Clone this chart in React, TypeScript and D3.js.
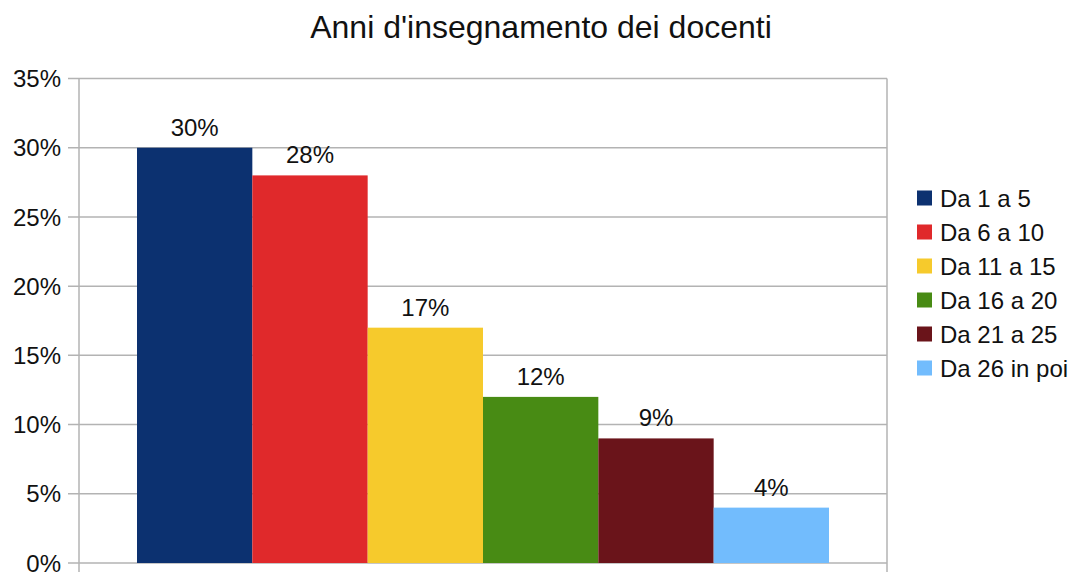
import * as d3 from 'd3';
import { useEffect, useRef } from 'react';

const title = "Anni d'insegnamento dei docenti";
const series = ['Da 1 a 5', 'Da 6 a 10', 'Da 11 a 15', 'Da 16 a 20', 'Da 21 a 25', 'Da 26 in poi'];
const values = [30, 28, 17, 12, 9, 4];
const colors = ['#0c3170', '#e0292b', '#f6ca2c', '#488b14', '#6a141a', '#72bcfd'];
const yTicks = [0, 5, 10, 15, 20, 25, 30, 35];

const W = 1076;
const H = 572;
const FONT = '"Liberation Sans", Arial, sans-serif';

export default function App() {
  const svgRef = useRef<SVGSVGElement>(null);

  useEffect(() => {
    const svg = d3.select(svgRef.current);
    svg.selectAll('*').remove();

    const plot = { left: 79, right: 887, top: 78.5, bottom: 563 };
    const y = d3.scaleLinear().domain([0, 35]).range([plot.bottom, plot.top]);
    // one category, the six series side by side
    const x = d3.scaleBand<string>().domain(series).range([137, 829]).padding(0);

    svg.append('rect').attr('width', W).attr('height', H).attr('fill', '#fff');

    svg.append('text')
      .attr('x', 541)
      .attr('y', 38)
      .attr('text-anchor', 'middle')
      .attr('font-family', FONT)
      .attr('font-size', 32)
      .attr('fill', '#111')
      .text(title);

    // gridlines + ticks
    const grid = svg.append('g');
    grid.selectAll('line')
      .data(yTicks)
      .enter()
      .append('line')
      .attr('x1', plot.left - 11)
      .attr('x2', plot.right)
      .attr('y1', (d) => y(d))
      .attr('y2', (d) => y(d))
      .attr('stroke', '#b3b3b3')
      .attr('stroke-width', 1.5);

    grid.selectAll('text')
      .data(yTicks)
      .enter()
      .append('text')
      .attr('x', 61)
      .attr('y', (d) => y(d))
      .attr('dy', '0.36em')
      .attr('text-anchor', 'end')
      .attr('font-family', FONT)
      .attr('font-size', 24)
      .attr('fill', '#111')
      .text((d) => d + '%');

    // bars
    svg.append('g')
      .selectAll('rect')
      .data(values)
      .enter()
      .append('rect')
      .attr('x', (_d, i) => x(series[i]) as number)
      .attr('width', x.bandwidth())
      .attr('y', (d) => y(d))
      .attr('height', (d) => plot.bottom - y(d))
      .attr('fill', (_d, i) => colors[i]);

    // axis lines
    svg.append('line')
      .attr('x1', plot.left).attr('x2', plot.left)
      .attr('y1', plot.top).attr('y2', H)
      .attr('stroke', '#b3b3b3').attr('stroke-width', 1.5);
    svg.append('line')
      .attr('x1', plot.right).attr('x2', plot.right)
      .attr('y1', plot.top).attr('y2', H)
      .attr('stroke', '#b3b3b3').attr('stroke-width', 1.5);

    // value labels
    svg.append('g')
      .selectAll('text')
      .data(values)
      .enter()
      .append('text')
      .attr('x', (_d, i) => (x(series[i]) as number) + x.bandwidth() / 2)
      .attr('y', (d) => y(d) - 12)
      .attr('text-anchor', 'middle')
      .attr('font-family', FONT)
      .attr('font-size', 24)
      .attr('fill', '#111')
      .text((d) => d + '%');

    // legend
    const legend = svg.append('g')
      .selectAll('g')
      .data(series)
      .enter()
      .append('g')
      .attr('transform', (_d, i) => `translate(917,${198 + i * 34})`);
    legend.append('rect')
      .attr('x', 0).attr('y', -7.5)
      .attr('width', 15).attr('height', 15)
      .attr('fill', (_d, i) => colors[i]);
    legend.append('text')
      .attr('x', 23)
      .attr('dy', '0.36em')
      .attr('font-family', FONT)
      .attr('font-size', 24)
      .attr('fill', '#111')
      .text((d) => d);
  }, []);

  return (
    <svg
      ref={svgRef}
      width={W}
      height={H}
      style={{ position: 'absolute', left: 0, top: 0, display: 'block' }}
    />
  );
}
